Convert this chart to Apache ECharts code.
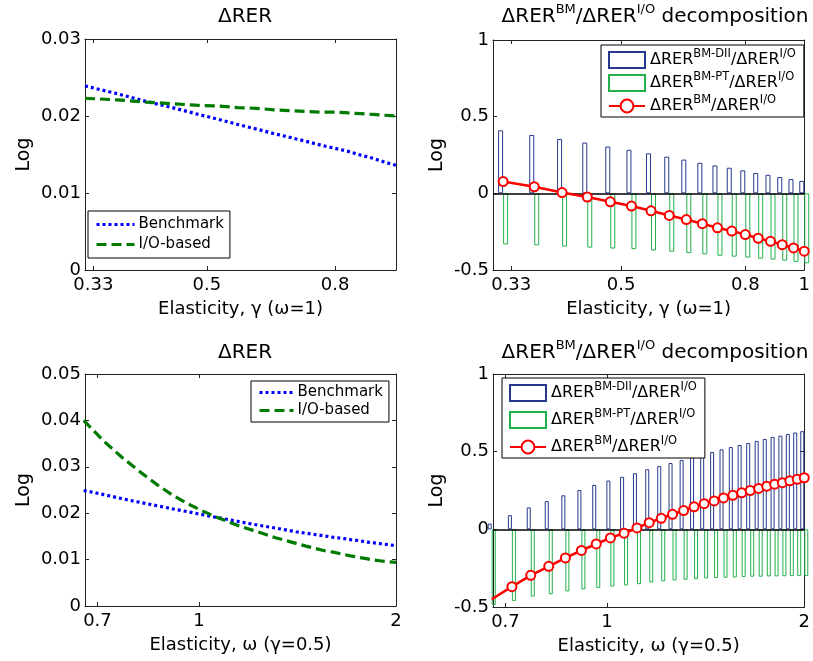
<!DOCTYPE html>
<html>
<head>
<meta charset="utf-8">
<script src="https://cdn.jsdelivr.net/npm/echarts@6/dist/echarts.min.js"></script>
<style>
html,body{margin:0;padding:0;background:#fff;}
#chart{width:813px;height:661px;}
</style>
</head>
<body>
<div id="chart"></div>
<script>
// ---- data: top row, gamma (omega = 1) ----
const gammaX = [0.32,0.36,0.40,0.44,0.48,0.52,0.56,0.60,0.64,0.68,0.72,0.76,0.80,0.84,0.88,0.92,0.96,1.00];
const benchGamma = [0.0239,0.0229,0.0219,0.0211,0.0203,0.0196,0.0189,0.0183,0.0177,0.0172,0.0167,0.0162,0.0158,0.0154,0.0149,0.0145,0.0140,0.0136];
const ioGamma = [0.0223,0.0221,0.0218,0.0216,0.0214,0.0213,0.0211,0.0210,0.0208,0.0207,0.0206,0.0205,0.0205,0.0204,0.0203,0.0202,0.0201,0.0200];
const diiGamma = [0.411,0.381,0.354,0.331,0.305,0.284,0.261,0.239,0.220,0.199,0.182,0.167,0.150,0.133,0.121,0.106,0.093,0.081];
const ptGamma = [-0.333,-0.339,-0.347,-0.354,-0.360,-0.364,-0.373,-0.381,-0.390,-0.398,-0.407,-0.413,-0.419,-0.426,-0.432,-0.439,-0.447,-0.456];
const bmGamma = [0.077,0.043,0.005,-0.024,-0.055,-0.083,-0.114,-0.144,-0.171,-0.198,-0.225,-0.246,-0.269,-0.293,-0.313,-0.335,-0.356,-0.377];

// ---- data: bottom row, omega (gamma = 0.5) ----
const omegaX = [0.667,0.716,0.765,0.815,0.864,0.914,0.963,1.012,1.062,1.111,1.160,1.210,1.259,1.309,1.358,1.407,1.457,1.506,1.556,1.605,1.654,1.704,1.753,1.802,1.852,1.901,1.951,2.000];
const benchOmega = [0.0249,0.0240,0.0231,0.0223,0.0216,0.0209,0.0203,0.0197,0.0191,0.0186,0.0181,0.0176,0.0172,0.0168,0.0164,0.0160,0.0157,0.0154,0.0151,0.0148,0.0146,0.0143,0.0141,0.0138,0.0136,0.0134,0.0132,0.0130];
const ioOmega = [0.0400,0.0355,0.0319,0.0288,0.0261,0.0238,0.0220,0.0205,0.0192,0.0181,0.0171,0.0163,0.0155,0.0147,0.0141,0.0135,0.0129,0.0124,0.0119,0.0116,0.0112,0.0108,0.0105,0.0102,0.0099,0.0097,0.0095,0.0094];
const diiOmega = [0.037,0.091,0.141,0.182,0.219,0.253,0.286,0.314,0.338,0.361,0.387,0.407,0.427,0.447,0.465,0.482,0.498,0.515,0.530,0.543,0.556,0.569,0.582,0.595,0.603,0.614,0.623,0.632];
const ptOmega = [-0.487,-0.461,-0.433,-0.418,-0.400,-0.387,-0.377,-0.368,-0.361,-0.353,-0.342,-0.335,-0.329,-0.325,-0.320,-0.316,-0.314,-0.312,-0.310,-0.307,-0.305,-0.305,-0.303,-0.303,-0.302,-0.301,-0.300,-0.300];
const bmOmega = [-0.450,-0.369,-0.296,-0.238,-0.184,-0.136,-0.094,-0.055,-0.025,0.009,0.043,0.071,0.097,0.121,0.145,0.165,0.183,0.202,0.219,0.235,0.250,0.263,0.278,0.291,0.300,0.312,0.322,0.332];

// ---- tick labels ----
const gammaTicksL = [0.33, 0.5, 0.8];
const gammaTicksR = [0.33, 0.5, 0.8, 1];
const omegaTicks = [0.7, 1, 2];
const yTicksTopL = [0, 0.03, 0.01];   // min, max, step
const yTicksBotL = [0, 0.05, 0.01];
const yTicksR = [-0.5, 1, 0.5];

const FONT = 'DejaVu Sans';
const BOX = '#222';
const pairs = (xs, ys) => xs.map((x, i) => [x, ys[i]]);

const grids = [
  {left: 85, top: 39, width: 311, height: 231},
  {left: 493, top: 40, width: 312, height: 230},
  {left: 85, top: 374, width: 311, height: 232},
  {left: 493, top: 374, width: 312, height: 233}
];

function xAxes(g, min, max, ticks, name) {
  const base = {
    type: 'log', gridIndex: g, min: min, max: max, logBase: 10,
    splitLine: {show: false}, minorTick: {show: false},
    axisLine: {show: true, onZero: false, lineStyle: {color: BOX, width: 1}},
    axisTick: {show: true, inside: true, length: 4, customValues: ticks, lineStyle: {color: BOX}},
  };
  return [
    Object.assign({}, base, {
      position: 'bottom',
      axisLabel: {show: true, customValues: ticks, margin: 6, color: '#000', fontFamily: FONT, fontSize: 18,
        formatter: v => String(+(+v).toFixed(2))},
      name: name, nameLocation: 'middle', nameGap: 30,
      nameTextStyle: {color: '#000', fontFamily: FONT, fontSize: 18}
    }),
    Object.assign({}, base, {position: 'top', axisLabel: {show: false}})
  ];
}
function yAxes(g, spec, nameGap) {
  const base = {
    type: 'value', gridIndex: g, min: spec[0], max: spec[1], interval: spec[2],
    splitLine: {show: false},
    axisLine: {show: true, onZero: false, lineStyle: {color: BOX, width: 1}},
    axisTick: {show: true, inside: true, length: 4, lineStyle: {color: BOX}}
  };
  return [
    Object.assign({}, base, {
      position: 'left',
      axisLabel: {show: true, margin: 4, color: '#000', fontFamily: FONT, fontSize: 18,
        formatter: v => String(+(+v).toFixed(3))},
      name: 'Log', nameLocation: 'middle', nameGap: nameGap,
      nameTextStyle: {color: '#000', fontFamily: FONT, fontSize: 19}
    }),
    Object.assign({}, base, {position: 'right', axisLabel: {show: false}})
  ];
}

const xAxis = [].concat(
  xAxes(0, 0.32, 1, gammaTicksL, 'Elasticity, γ (ω=1)'),
  xAxes(1, 0.308, 1, gammaTicksR, 'Elasticity, γ (ω=1)'),
  xAxes(2, 0.67, 2, omegaTicks, 'Elasticity, ω (γ=0.5)'),
  xAxes(3, 0.67, 2, omegaTicks, 'Elasticity, ω (γ=0.5)')
);
const yAxis = [].concat(
  yAxes(0, yTicksTopL, 51),
  yAxes(1, yTicksR, 46),
  yAxes(2, yTicksBotL, 51),
  yAxes(3, yTicksR, 46)
);

const BLUE_BAR = '#27388c';
const GREEN_BAR = '#23b04a';
function lineSeries(name, xi, xs, ys, color, dash) {
  return {
    name: name, type: 'line', xAxisIndex: xi, yAxisIndex: xi,
    data: pairs(xs, ys), symbol: 'none', smooth: false, z: 4,
    lineStyle: {color: color, width: 3.2, type: dash}, itemStyle: {color: color}
  };
}
function barSeries(name, xi, xs, ys, color, w, withZero) {
  const s = {
    name: name, type: 'bar', xAxisIndex: xi, yAxisIndex: xi,
    data: pairs(xs, ys), barWidth: w, barGap: '0%',
    itemStyle: {color: 'rgba(255,255,255,0)', borderColor: color, borderWidth: 1}
  };
  if (withZero) {
    s.markLine = {silent: true, symbol: 'none', label: {show: false},
      lineStyle: {color: '#000', width: 1.5, type: 'solid'}, data: [{yAxis: 0}]};
  }
  return s;
}
function bmSeries(name, xi, xs, ys) {
  return {
    name: name, type: 'line', xAxisIndex: xi, yAxisIndex: xi, z: 6,
    data: pairs(xs, ys), symbol: 'circle', symbolSize: 9,
    lineStyle: {color: '#ff0000', width: 2.6},
    itemStyle: {color: '#fff', borderColor: '#ff0000', borderWidth: 2}
  };
}

const series = [
  lineSeries('Benchmark', 0, gammaX, benchGamma, '#0000ff', [3, 3]),
  lineSeries('I/O-based', 0, gammaX, ioGamma, '#007a00', [10, 5]),
  barSeries('dii', 2, gammaX, diiGamma, BLUE_BAR, 5, true),
  barSeries('pt', 2, gammaX, ptGamma, GREEN_BAR, 5, false),
  bmSeries('bm', 2, gammaX, bmGamma),
  lineSeries('Benchmark', 4, omegaX, benchOmega, '#0000ff', [3, 3]),
  lineSeries('I/O-based', 4, omegaX, ioOmega, '#007a00', [10, 5]),
  barSeries('dii', 6, omegaX, diiOmega, BLUE_BAR, 4, true),
  barSeries('pt', 6, omegaX, ptOmega, GREEN_BAR, 4, false),
  bmSeries('bm', 6, omegaX, bmOmega)
];

const supRich = {
  b: {fontFamily: FONT, fontSize: 16, color: '#000', lineHeight: 24},
  s: {fontFamily: FONT, fontSize: 11.5, color: '#000', lineHeight: 8, verticalAlign: 'top'}
};
const legendText = {
  dii: '{b|ΔRER}{s|BM-DII}{b|/ΔRER}{s|I/O}',
  pt: '{b|ΔRER}{s|BM-PT}{b|/ΔRER}{s|I/O}',
  bm: '{b|ΔRER}{s|BM}{b|/ΔRER}{s|I/O}'
};
function lineLegend(left, top, iw, gap, pad) {
  return {
    left: left, top: top, orient: 'vertical', data: ['Benchmark', 'I/O-based'],
    itemWidth: iw, itemHeight: 14, itemGap: gap,
    padding: [pad, 6, pad, 7], borderColor: '#000', borderWidth: 1, backgroundColor: '#fff',
    textStyle: {fontFamily: FONT, fontSize: 15, color: '#000', padding: [0, 0, 0, -1]},
    lineStyle: {width: 3},
    itemStyle: {color: 'rgba(0,0,0,0)', borderColor: 'rgba(0,0,0,0)', borderWidth: 0},
    selectedMode: false
  };
}
function barLegend(left, top, gap) {
  return {
    left: left, top: top, orient: 'vertical',
    data: [{name: 'dii', icon: 'rect'}, {name: 'pt', icon: 'rect'}, {name: 'bm'}],
    itemWidth: 36, itemHeight: 16, itemGap: gap,
    padding: [3, 8, 3, 7], borderColor: '#000', borderWidth: 1, backgroundColor: '#fff',
    formatter: n => legendText[n],
    textStyle: {rich: supRich}, selectedMode: false
  };
}

const titleRich = {
  a: {fontFamily: FONT, fontSize: 20, color: '#000', lineHeight: 28},
  s: {fontFamily: FONT, fontSize: 13, color: '#000', lineHeight: 12, verticalAlign: 'top'}
};
function title(text, x, y) {
  return {text: text, left: x, top: y, textAlign: 'center',
    textStyle: {fontFamily: FONT, fontSize: 20, fontWeight: 'normal', color: '#000', rich: titleRich}};
}

const option = {
  backgroundColor: '#fff',
  animation: false,
  title: [
    title('{a|ΔRER}', 240, -2),
    title('{a|ΔRER}{s|BM}{a|/ΔRER}{s|I/O}{a| decomposition}', 650, -2),
    title('{a|ΔRER}', 240, 334),
    title('{a|ΔRER}{s|BM}{a|/ΔRER}{s|I/O}{a| decomposition}', 650, 334)
  ],
  legend: [
    lineLegend(88, 211, 38, 5, 6),
    lineLegend(251, 381, 34, 3, 4),
    barLegend(601, 45, 2),
    barLegend(502, 378, 6)
  ],
  grid: grids,
  xAxis: xAxis,
  yAxis: yAxis,
  series: series
};

const chart = echarts.init(document.getElementById('chart'), null, {renderer: 'canvas'});
chart.setOption(option);
</script>
</body>
</html>
